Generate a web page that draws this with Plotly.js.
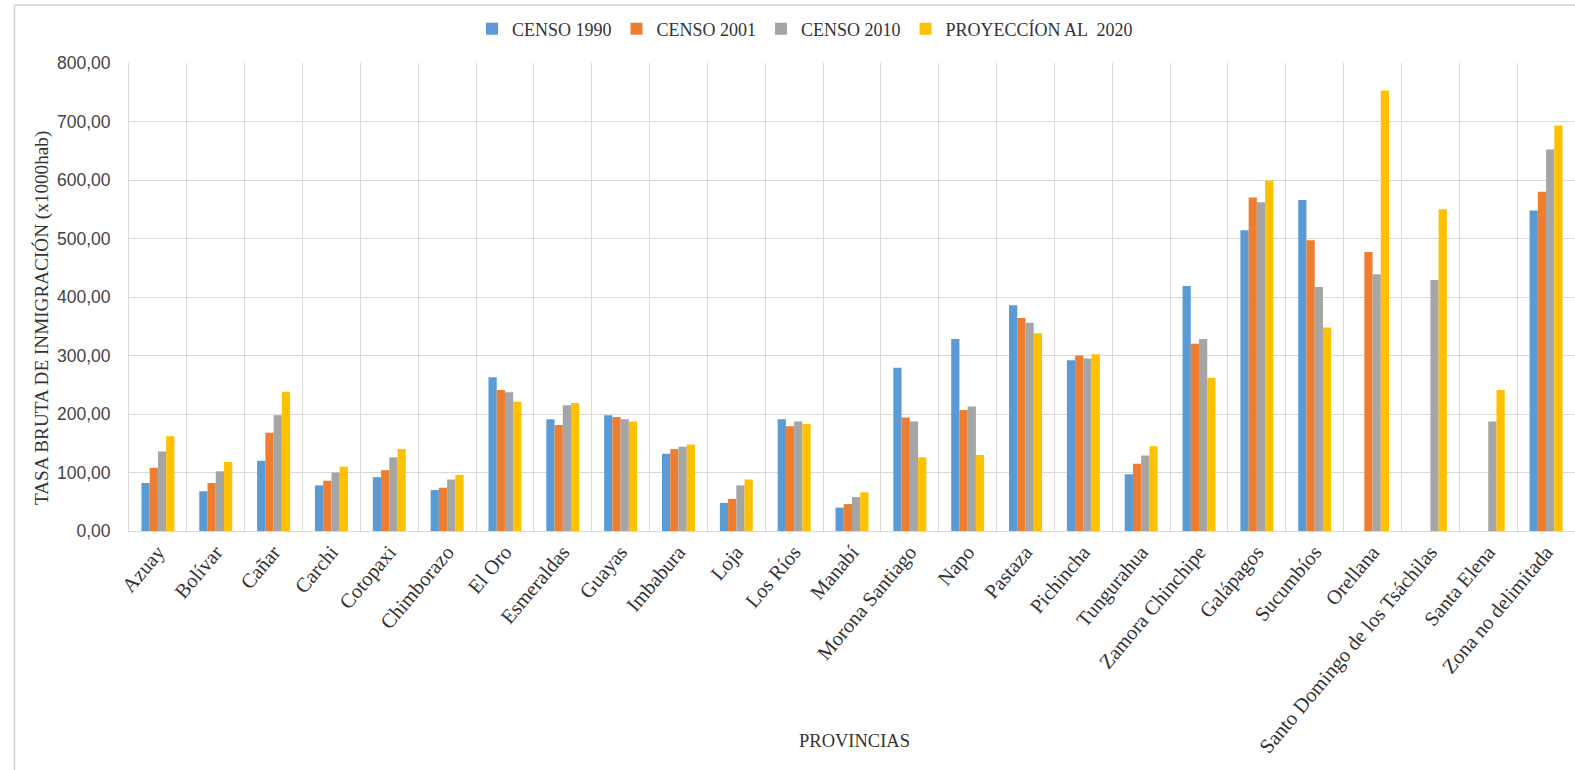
<!DOCTYPE html>
<html>
<head>
<meta charset="utf-8">
<script src="https://cdn.plot.ly/plotly-3.0.1.min.js"></script>
<style>html,body{margin:0;padding:0;background:#fff;overflow:hidden;}</style>
</head>
<body>
<div id="chart" style="width:1575px;height:770px;"></div>
<script>
const provincias = ["Azuay","Bolívar","Cañar","Carchi","Cotopaxi","Chimborazo","El Oro","Esmeraldas","Guayas","Imbabura","Loja","Los Ríos","Manabí","Morona Santiago","Napo","Pastaza","Pichincha","Tungurahua","Zamora Chinchipe","Galápagos","Sucumbíos","Orellana","Santo Domingo de los Tsáchilas","Santa Elena","Zona no delimitada"];
const censo1990 = [82,68,120,78,92,70,263,191,198,132,48,191,40,279,328,386,292,97,419,514,566,null,null,null,548];
const censo2001 = [108,82,168,86,104,74,241,181,195,140,55,179,46,194,207,364,300,115,320,570,497,477,null,null,580];
const censo2010 = [136,102,198,100,126,88,237,215,191,144,78,187,58,187,213,356,295,129,328,562,417,439,429,187,652];
const proy2020 = [162,118,238,110,140,96,221,219,187,148,88,183,66,126,130,338,302,145,262,599,348,753,550,241,693];
const seriesNames = ["CENSO 1990","CENSO 2001","CENSO 2010","PROYECCÍON AL  2020"];
const seriesColors = ["#5B9BD5","#ED7D31","#A5A5A5","#FFC000"];
const seriesData = [censo1990, censo2001, censo2010, proy2020];
const xTitle = "PROVINCIAS";
const yTitle = "TASA BRUTA DE INMIGRACIÓN (x1000hab)";

const traces = seriesData.map((vals, i) => ({
  type: "bar",
  name: seriesNames[i],
  x: provincias,
  y: vals,
  marker: {color: seriesColors[i], line: {width: 0}},
  hoverinfo: "x+y+name"
}));

const serif = "Liberation Serif, Times New Roman, serif";
const plotL = 129, plotT = 63, plotB = 531, W = 1575, H = 770;
const pw = W - plotL, ph = plotB - plotT;
const px = v => (v - plotL) / pw;
const py = v => (plotB - v) / ph;

const layout = {
  width: W, height: H,
  margin: {l: plotL, r: 0, t: plotT, b: H - plotB, pad: 0},
  paper_bgcolor: "#fff",
  plot_bgcolor: "#fff",
  barmode: "group",
  bargap: 0.43,
  bargroupgap: 0,
  separators: ",.",
  showlegend: true,
  legend: {
    orientation: "h",
    x: px(472), xanchor: "left",
    y: py(29), yanchor: "middle",
    font: {family: serif, size: 18, color: "#333"},
    itemwidth: 30,
    tracegroupgap: 0
  },
  xaxis: {
    type: "category",
    tickangle: -50,
    tickson: "boundaries",
    ticks: "",
    showgrid: true,
    gridcolor: "#d9d9d9",
    gridwidth: 1,
    showline: true,
    linecolor: "#d9d9d9",
    zeroline: false,
    tickfont: {family: serif, size: 20.5, color: "#333"},
    automargin: false
  },
  yaxis: {
    range: [0, 800],
    dtick: 100,
    tickformat: ".2f",
    ticks: "",
    ticklabelstandoff: 14,
    showgrid: true,
    gridcolor: "#d9d9d9",
    gridwidth: 1,
    zeroline: false,
    showline: true,
    linecolor: "#d9d9d9",
    tickfont: {family: "Liberation Sans, Arial, sans-serif", size: 17.5, color: "#444"},
    automargin: false
  },
  annotations: [
    {text: yTitle, xref: "paper", yref: "paper", x: px(42), y: py(318), xanchor: "center", yanchor: "middle",
     textangle: -90, showarrow: false, font: {family: serif, size: 19.2, color: "#333"}},
    {text: xTitle, xref: "paper", yref: "paper", x: px(854), y: py(741), xanchor: "center", yanchor: "middle",
     showarrow: false, font: {family: serif, size: 18.5, color: "#333"}}
  ],
  shapes: [
    {type: "line", xref: "paper", yref: "paper", x0: px(14.5), x1: px(14.5), y0: py(5), y1: py(770), line: {color: "#d0d0d0", width: 1.5}},
    {type: "line", xref: "paper", yref: "paper", x0: px(14.5), x1: 1.01, y0: py(5), y1: py(5), line: {color: "#d0d0d0", width: 1.5}}
  ]
};

Plotly.newPlot("chart", traces, layout, {displayModeBar: false, staticPlot: false});
</script>
</body>
</html>
